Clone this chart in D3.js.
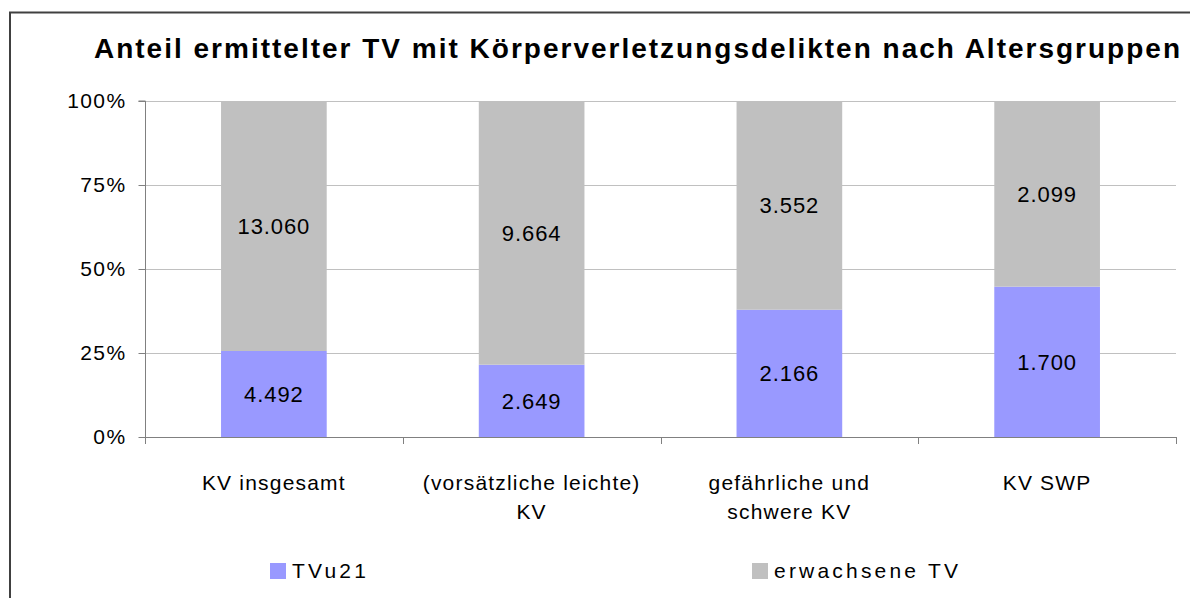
<!DOCTYPE html>
<html><head><meta charset="utf-8">
<script src="https://cdn.jsdelivr.net/npm/d3@7"></script>
<style>
html,body{margin:0;padding:0;background:#fff;overflow:hidden;}
text{font-family:"Liberation Sans",Arial,sans-serif;fill:#000;}
</style></head>
<body><svg id="chart" width="1190" height="598"></svg>
<script>
const titleText = "Anteil ermittelter TV mit Körperverletzungsdelikten nach Altersgruppen";
const categories = [["KV insgesamt"], ["(vorsätzliche leichte)", "KV"], ["gefährliche und", "schwere KV"], ["KV SWP"]];
const seriesNames = ["TVu21", "erwachsene TV"];
const tvu21 = [4492, 2649, 2166, 1700];
const erwachsene = [13060, 9664, 3552, 2099];
const yTicks = [0, 0.25, 0.5, 0.75, 1];
const colors = ["#9999FF", "#C0C0C0"];

const de = d3.formatLocale({decimal: ",", thousands: ".", grouping: [3], currency: ["", " €"]});
const fmt = de.format(",d");
const pct = d3.format(".0%");

const svg = d3.select("#chart");
const W = 1190, H = 598;
const plot = {left: 145, right: 1176, top: 101, bottom: 437};

// chart frame
svg.append("rect").attr("x", 10).attr("y", 12.5).attr("width", W + 20).attr("height", H + 20)
  .attr("fill", "none").attr("stroke", "#404040").attr("stroke-width", 2);

// title
svg.append("text").attr("x", 638).attr("y", 58).attr("text-anchor", "middle")
  .style("font-size", "28px").style("font-weight", "bold").style("letter-spacing", "2px")
  .text(titleText);

const idx = categories.map((d, i) => i);
const x = d3.scaleBand().domain(idx).range([plot.left, plot.right]).paddingInner(0.59).paddingOuter(0.295);
const y = d3.scaleLinear().domain([0, 1]).range([plot.bottom, plot.top]);

const stackData = idx.map(i => {
  const tot = tvu21[i] + erwachsene[i];
  return {i, vals: [tvu21[i], erwachsene[i]], shares: [tvu21[i] / tot, erwachsene[i] / tot]};
});

// gridlines
svg.append("g").selectAll("line").data(yTicks.filter(t => t > 0)).join("line")
  .attr("x1", plot.left).attr("x2", plot.right)
  .attr("y1", d => Math.round(y(d)) + 0.5).attr("y2", d => Math.round(y(d)) + 0.5)
  .attr("stroke", "#c0c0c0").attr("stroke-width", 1);

// bars
const bars = svg.append("g");
stackData.forEach(d => {
  let acc = 0;
  d.shares.forEach((s, k) => {
    const y0 = y(acc), y1 = y(acc + s);
    bars.append("rect").attr("x", x(d.i)).attr("width", x.bandwidth())
      .attr("y", y1).attr("height", y0 - y1).attr("fill", colors[k]);
    bars.append("text").attr("x", x(d.i) + x.bandwidth() / 2).attr("y", (y0 + y1) / 2)
      .attr("dy", "0.36em").attr("text-anchor", "middle")
      .style("font-size", "22px").style("letter-spacing", "0.9px")
      .text(fmt(d.vals[k]));
    acc += s;
  });
});

// y axis
const yAxis = d3.axisLeft(y).tickValues(yTicks).tickFormat(pct).tickSize(7).tickPadding(12);
const gy = svg.append("g").attr("transform", `translate(${plot.left + 0.5},0)`).call(yAxis);
gy.attr("font-family", null).attr("font-size", null);
gy.select(".domain").attr("stroke", "#808080").attr("d", `M-7,${plot.top}H0V${plot.bottom + 7}`);
gy.selectAll(".tick line").attr("stroke", "#808080");
gy.selectAll(".tick text").style("font-size", "21px").style("letter-spacing", "1.4px").attr("fill", "#000");
gy.selectAll(".tick").attr("transform", d => `translate(0,${Math.round(y(d)) + 0.5})`);

// x axis baseline & category ticks
const step = x.step();
const bounds = d3.range(categories.length + 1).map(k => plot.left + k * step);
svg.append("line").attr("x1", plot.left).attr("x2", plot.right)
  .attr("y1", plot.bottom + 0.5).attr("y2", plot.bottom + 0.5).attr("stroke", "#808080");
svg.append("g").selectAll("line").data(bounds).join("line")
  .attr("x1", d => Math.round(d) + 0.5).attr("x2", d => Math.round(d) + 0.5)
  .attr("y1", plot.bottom).attr("y2", plot.bottom + 7).attr("stroke", "#808080");

// category labels
const gl = svg.append("g");
idx.forEach(i => {
  const t = gl.append("text").attr("text-anchor", "middle")
    .style("font-size", "21px").style("letter-spacing", "1.2px");
  categories[i].forEach((line, j) => {
    t.append("tspan").attr("x", x(i) + x.bandwidth() / 2).attr("y", 490 + j * 29).text(line);
  });
});

// legend
const legendX = [270, 752];
const lg = svg.append("g");
seriesNames.forEach((n, k) => {
  lg.append("rect").attr("x", legendX[k]).attr("y", 563).attr("width", 16).attr("height", 16).attr("fill", colors[k]);
  lg.append("text").attr("x", legendX[k] + 22).attr("y", 578)
    .style("font-size", "21px").style("letter-spacing", "3.2px").text(n);
});
</script></body></html>
